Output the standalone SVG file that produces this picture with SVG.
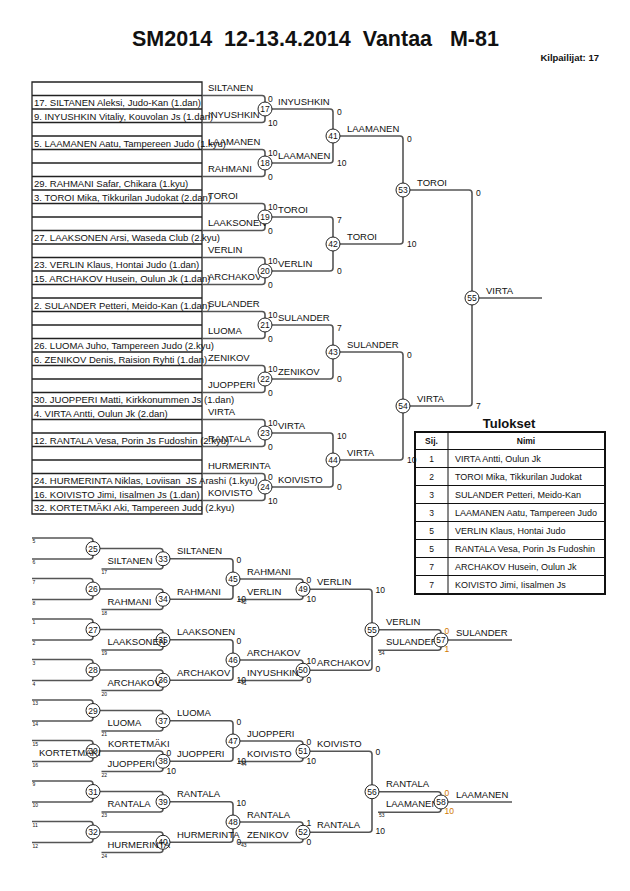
<svg xmlns="http://www.w3.org/2000/svg" width="630" height="891" viewBox="0 0 630 891">
<defs>
<style>
text{font-family:"Liberation Sans",Arial,Helvetica,sans-serif;fill:#111}
.ti{font-size:21.5px;font-weight:bold;text-anchor:middle}
.kp{font-size:9.5px;font-weight:bold;text-anchor:end}
.nm{font-size:9.5px}
.sc{font-size:8.5px}
.cn{font-size:8.5px;text-anchor:middle}
.tn{font-size:5px}
.or{fill:#d07800}
.br{fill:none;stroke:#555;stroke-width:1.6}
.cc{fill:#fff;stroke:#222;stroke-width:1}
.tb{fill:none;stroke:#222;stroke-width:1.3}
.rb{fill:none;stroke:#111;stroke-width:1}
.hd{font-size:8.5px;font-weight:bold;text-anchor:middle}
.rk{font-size:8.5px;text-anchor:middle}
.rn{font-size:9px}
</style>
<clipPath id="rc"><rect x="448" y="449" width="154" height="146"/></clipPath>
</defs>
<rect width="630" height="891" fill="#fff"/>
<text class="ti" x="315.5" y="46" xml:space="preserve">SM2014  12-13.4.2014  Vantaa   M-81</text>
<text class="kp" x="599" y="61">Kilpailijat: 17</text>

<g id="entries">
<path class="tb" d="M32,82H202V514H32Z M32,95.5H202 M32,109H202 M32,122.5H202 M32,136H202 M32,149.5H202 M32,163H202 M32,176.5H202 M32,190H202 M32,203.5H202 M32,217H202 M32,230.5H202 M32,244H202 M32,257.5H202 M32,271H202 M32,284.5H202 M32,298H202 M32,311.5H202 M32,325H202 M32,338.5H202 M32,352H202 M32,365.5H202 M32,379H202 M32,392.5H202 M32,406H202 M32,419.5H202 M32,433H202 M32,446.5H202 M32,460H202 M32,473.5H202 M32,487H202 M32,500.5H202"/>
<text class="nm" x="34" y="106">17. SILTANEN Aleksi, Judo-Kan (1.dan)</text>
<text class="nm" x="34" y="119.5">9. INYUSHKIN Vitaliy, Kouvolan Js (1.dan)</text>
<text class="nm" x="34" y="146.5">5. LAAMANEN Aatu, Tampereen Judo (1.kyu)</text>
<text class="nm" x="34" y="187">29. RAHMANI Safar, Chikara (1.kyu)</text>
<text class="nm" x="34" y="200.5">3. TOROI Mika, Tikkurilan Judokat (2.dan)</text>
<text class="nm" x="34" y="241">27. LAAKSONEN Arsi, Waseda Club (2.kyu)</text>
<text class="nm" x="34" y="268">23. VERLIN Klaus, Hontai Judo (1.dan)</text>
<text class="nm" x="34" y="281.5">15. ARCHAKOV Husein, Oulun Jk (1.dan)</text>
<text class="nm" x="34" y="308.5">2. SULANDER Petteri, Meido-Kan (1.dan)</text>
<text class="nm" x="34" y="349">26. LUOMA Juho, Tampereen Judo (2.kyu)</text>
<text class="nm" x="34" y="362.5">6. ZENIKOV Denis, Raision Ryhti (1.dan)</text>
<text class="nm" x="34" y="403">30. JUOPPERI Matti, Kirkkonummen Js (1.dan)</text>
<text class="nm" x="34" y="416.5">4. VIRTA Antti, Oulun Jk (2.dan)</text>
<text class="nm" x="34" y="443.5">12. RANTALA Vesa, Porin Js Fudoshin (2.kyu)</text>
<text class="nm" x="34" y="484" xml:space="preserve">24. HURMERINTA Niklas, Loviisan  JS Arashi (1.kyu)</text>
<text class="nm" x="34" y="497.5">16. KOIVISTO Jimi, Iisalmen Js (1.dan)</text>
<text class="nm" x="34" y="511">32. KORTETMÄKI Aki, Tampereen Judo (2.kyu)</text>
</g>

<g id="connectors">
<path class="br" d="M202,95.5H262Q265,95.5 265,98.5V119.5Q265,122.5 262,122.5H202 M202,149.5H262Q265,149.5 265,152.5V173.5Q265,176.5 262,176.5H202 M202,203.5H262Q265,203.5 265,206.5V227.5Q265,230.5 262,230.5H202 M202,257.5H262Q265,257.5 265,260.5V281.5Q265,284.5 262,284.5H202 M202,311.5H262Q265,311.5 265,314.5V335.5Q265,338.5 262,338.5H202 M202,365.5H262Q265,365.5 265,368.5V389.5Q265,392.5 262,392.5H202 M202,419.5H262Q265,419.5 265,422.5V443.5Q265,446.5 262,446.5H202 M202,473.5H262Q265,473.5 265,476.5V497.5Q265,500.5 262,500.5H202"/>
<path class="br" d="M265,109H330Q333,109 333,112V160Q333,163 330,163H265 M265,217H330Q333,217 333,220V268Q333,271 330,271H265 M265,325H330Q333,325 333,328V376Q333,379 330,379H265 M265,433H330Q333,433 333,436V484Q333,487 330,487H265"/>
<path class="br" d="M333,136H400Q403,136 403,139V241Q403,244 400,244H333 M333,352H400Q403,352 403,355V457Q403,460 400,460H333"/>
<path class="br" d="M403,190H469Q472,190 472,193V403Q472,406 469,406H403 M472,298H542"/>
<path class="br" d="M32,538H90Q93,538 93,541V556Q93,559 90,559H32 M32,578.5H90Q93,578.5 93,581.5V596.5Q93,599.5 90,599.5H32 M32,619H90Q93,619 93,622V637Q93,640 90,640H32 M32,659.5H90Q93,659.5 93,662.5V677.5Q93,680.5 90,680.5H32 M32,700H90Q93,700 93,703V718Q93,721 90,721H32 M32,740.5H90Q93,740.5 93,743.5V758.5Q93,761.5 90,761.5H32 M32,781H90Q93,781 93,784V799Q93,802 90,802H32 M32,821.5H90Q93,821.5 93,824.5V839.5Q93,842.5 90,842.5H32"/>
<path class="br" d="M93,548.5H160Q163,548.5 163,551.5V566Q163,569 160,569H101.5 M93,589H160Q163,589 163,592V606.5Q163,609.5 160,609.5H101.5 M93,629.5H160Q163,629.5 163,632.5V647Q163,650 160,650H101.5 M93,670H160Q163,670 163,673V687.5Q163,690.5 160,690.5H101.5 M93,710.5H160Q163,710.5 163,713.5V728Q163,731 160,731H101.5 M93,751H160Q163,751 163,754V768.5Q163,771.5 160,771.5H101.5 M93,791.5H160Q163,791.5 163,794.5V809Q163,812 160,812H101.5 M93,832H160Q163,832 163,835V849.5Q163,852.5 160,852.5H101.5"/>
<path class="br" d="M163,558.75H230Q233,558.75 233,561.75V596.25Q233,599.25 230,599.25H163 M163,639.75H230Q233,639.75 233,642.75V677.25Q233,680.25 230,680.25H163 M163,720.75H230Q233,720.75 233,723.75V758.25Q233,761.25 230,761.25H163 M163,801.75H230Q233,801.75 233,804.75V839.25Q233,842.25 230,842.25H163"/>
<path class="br" d="M233,579H300Q303,579 303,582V596.5Q303,599.5 300,599.5H238 M233,660H300Q303,660 303,663V677.5Q303,680.5 300,680.5H238 M233,741H300Q303,741 303,744V758.5Q303,761.5 300,761.5H238 M233,822H300Q303,822 303,825V839.5Q303,842.5 300,842.5H238"/>
<path class="br" d="M303,589.25H369Q372,589.25 372,592.25V667.25Q372,670.25 369,670.25H303 M303,751.25H369Q372,751.25 372,754.25V829.25Q372,832.25 369,832.25H303"/>
<path class="br" d="M372,629.75H438Q441,629.75 441,632.75V647.25Q441,650.25 438,650.25H378 M372,791.75H438Q441,791.75 441,794.75V809.25Q441,812.25 438,812.25H378 M441,640H512 M441,802H512"/>
</g>

<g id="slot-labels">
<text class="nm" x="208" y="90.5">SILTANEN</text>
<text class="nm" x="208" y="117.5">INYUSHKIN</text>
<text class="nm" x="208" y="144.5">LAAMANEN</text>
<text class="nm" x="208" y="171.5">RAHMANI</text>
<text class="nm" x="208" y="198.5">TOROI</text>
<text class="nm" x="208" y="225.5">LAAKSONEN</text>
<text class="nm" x="208" y="252.5">VERLIN</text>
<text class="nm" x="208" y="279.5">ARCHAKOV</text>
<text class="nm" x="208" y="306.5">SULANDER</text>
<text class="nm" x="208" y="333.5">LUOMA</text>
<text class="nm" x="208" y="360.5">ZENIKOV</text>
<text class="nm" x="208" y="387.5">JUOPPERI</text>
<text class="nm" x="208" y="414.5">VIRTA</text>
<text class="nm" x="208" y="441.5">RANTALA</text>
<text class="nm" x="208" y="468.5">HURMERINTA</text>
<text class="nm" x="208" y="495.5">KOIVISTO</text>
</g>

<g id="m17"><circle class="cc" cx="265" cy="109" r="7"/><text class="cn" x="265" y="112">17</text><text class="sc" x="268" y="101.5">0</text><text class="sc" x="268" y="125.5">10</text><text class="nm" x="278" y="104.5">INYUSHKIN</text></g>
<g id="m18"><circle class="cc" cx="265" cy="163" r="7"/><text class="cn" x="265" y="166">18</text><text class="sc" x="268" y="155.5">10</text><text class="sc" x="268" y="179.5">0</text><text class="nm" x="278" y="158.5">LAAMANEN</text></g>
<g id="m19"><circle class="cc" cx="265" cy="217" r="7"/><text class="cn" x="265" y="220">19</text><text class="sc" x="268" y="209.5">10</text><text class="sc" x="268" y="233.5">0</text><text class="nm" x="278" y="212.5">TOROI</text></g>
<g id="m20"><circle class="cc" cx="265" cy="271" r="7"/><text class="cn" x="265" y="274">20</text><text class="sc" x="268" y="263.5">10</text><text class="sc" x="268" y="287.5">0</text><text class="nm" x="278" y="266.5">VERLIN</text></g>
<g id="m21"><circle class="cc" cx="265" cy="325" r="7"/><text class="cn" x="265" y="328">21</text><text class="sc" x="268" y="317.5">10</text><text class="sc" x="268" y="341.5">0</text><text class="nm" x="278" y="320.5">SULANDER</text></g>
<g id="m22"><circle class="cc" cx="265" cy="379" r="7"/><text class="cn" x="265" y="382">22</text><text class="sc" x="268" y="371.5">10</text><text class="sc" x="268" y="395.5">0</text><text class="nm" x="278" y="374.5">ZENIKOV</text></g>
<g id="m23"><circle class="cc" cx="265" cy="433" r="7"/><text class="cn" x="265" y="436">23</text><text class="sc" x="268" y="425.5">10</text><text class="sc" x="268" y="449.5">0</text><text class="nm" x="278" y="428.5">VIRTA</text></g>
<g id="m24"><circle class="cc" cx="265" cy="487" r="7"/><text class="cn" x="265" y="490">24</text><text class="sc" x="268" y="479.5">0</text><text class="sc" x="268" y="503.5">10</text><text class="nm" x="278" y="482.5">KOIVISTO</text></g>

<g id="m41"><circle class="cc" cx="333" cy="136" r="7"/><text class="cn" x="333" y="139">41</text><text class="sc" x="337" y="115">0</text><text class="sc" x="337" y="166">10</text><text class="nm" x="347" y="131.5">LAAMANEN</text></g>
<g id="m42"><circle class="cc" cx="333" cy="244" r="7"/><text class="cn" x="333" y="247">42</text><text class="sc" x="337" y="223">7</text><text class="sc" x="337" y="274">0</text><text class="nm" x="347" y="239.5">TOROI</text></g>
<g id="m43"><circle class="cc" cx="333" cy="352" r="7"/><text class="cn" x="333" y="355">43</text><text class="sc" x="337" y="331">7</text><text class="sc" x="337" y="382">0</text><text class="nm" x="347" y="347.5">SULANDER</text></g>
<g id="m44"><circle class="cc" cx="333" cy="460" r="7"/><text class="cn" x="333" y="463">44</text><text class="sc" x="337" y="439">10</text><text class="sc" x="337" y="490">0</text><text class="nm" x="347" y="455.5">VIRTA</text></g>

<g id="m53"><circle class="cc" cx="403" cy="190" r="7"/><text class="cn" x="403" y="193">53</text><text class="sc" x="407" y="142">0</text><text class="sc" x="407" y="247">10</text><text class="nm" x="417" y="185.5">TOROI</text></g>
<g id="m54"><circle class="cc" cx="403" cy="406" r="7"/><text class="cn" x="403" y="409">54</text><text class="sc" x="407" y="358">0</text><text class="sc" x="407" y="463">10</text><text class="nm" x="417" y="401.5">VIRTA</text></g>
<g id="m55top"><circle class="cc" cx="472" cy="298" r="7"/><text class="cn" x="472" y="301">55</text><text class="sc" x="476" y="196">0</text><text class="sc" x="476" y="409">7</text><text class="nm" x="486" y="293.5">VIRTA</text></g>

<g id="m25"><circle class="cc" cx="93" cy="548.5" r="7"/><text class="cn" x="93" y="551.5">25</text><text class="tn" x="32.5" y="543">5</text><text class="tn" x="32.5" y="564">6</text></g>
<g id="m26"><circle class="cc" cx="93" cy="589" r="7"/><text class="cn" x="93" y="592">26</text><text class="tn" x="32.5" y="583.5">7</text><text class="tn" x="32.5" y="604.5">8</text></g>
<g id="m27"><circle class="cc" cx="93" cy="629.5" r="7"/><text class="cn" x="93" y="632.5">27</text><text class="tn" x="32.5" y="624">1</text><text class="tn" x="32.5" y="645">2</text></g>
<g id="m28"><circle class="cc" cx="93" cy="670" r="7"/><text class="cn" x="93" y="673">28</text><text class="tn" x="32.5" y="664.5">3</text><text class="tn" x="32.5" y="685.5">4</text></g>
<g id="m29"><circle class="cc" cx="93" cy="710.5" r="7"/><text class="cn" x="93" y="713.5">29</text><text class="tn" x="32.5" y="705">13</text><text class="tn" x="32.5" y="726">14</text></g>
<g id="m30"><circle class="cc" cx="93" cy="751" r="7"/><text class="cn" x="93" y="754">30</text><text class="tn" x="32.5" y="745.5">15</text><text class="tn" x="32.5" y="766.5">16</text><text class="nm" x="39" y="756">KORTETMÄKI</text><text class="nm" x="108" y="746.5">KORTETMÄKI</text></g>
<g id="m31"><circle class="cc" cx="93" cy="791.5" r="7"/><text class="cn" x="93" y="794.5">31</text><text class="tn" x="32.5" y="786">9</text><text class="tn" x="32.5" y="807">10</text></g>
<g id="m32"><circle class="cc" cx="93" cy="832" r="7"/><text class="cn" x="93" y="835">32</text><text class="tn" x="32.5" y="826.5">11</text><text class="tn" x="32.5" y="847.5">12</text></g>

<g id="m33"><circle class="cc" cx="163" cy="558.75" r="7"/><text class="cn" x="163" y="561.75">33</text><text class="nm" x="107.5" y="564">SILTANEN</text><text class="tn" x="101.5" y="574">17</text><text class="nm" x="177" y="554.25">SILTANEN</text></g>
<g id="m34"><circle class="cc" cx="163" cy="599.25" r="7"/><text class="cn" x="163" y="602.25">34</text><text class="nm" x="107.5" y="604.5">RAHMANI</text><text class="tn" x="101.5" y="614.5">18</text><text class="nm" x="177" y="594.75">RAHMANI</text></g>
<g id="m35"><circle class="cc" cx="163" cy="639.75" r="7"/><text class="cn" x="163" y="642.75">35</text><text class="nm" x="107.5" y="645">LAAKSONEN</text><text class="tn" x="101.5" y="655">19</text><text class="nm" x="177" y="635.25">LAAKSONEN</text></g>
<g id="m36"><circle class="cc" cx="163" cy="680.25" r="7"/><text class="cn" x="163" y="683.25">36</text><text class="nm" x="107.5" y="685.5">ARCHAKOV</text><text class="tn" x="101.5" y="695.5">20</text><text class="nm" x="177" y="675.75">ARCHAKOV</text></g>
<g id="m37"><circle class="cc" cx="163" cy="720.75" r="7"/><text class="cn" x="163" y="723.75">37</text><text class="nm" x="107.5" y="726">LUOMA</text><text class="tn" x="101.5" y="736">21</text><text class="nm" x="177" y="716.25">LUOMA</text></g>
<g id="m38"><circle class="cc" cx="163" cy="761.25" r="7"/><text class="cn" x="163" y="764.25">38</text><text class="nm" x="107.5" y="766.5">JUOPPERI</text><text class="tn" x="101.5" y="776.5">22</text><text class="sc" x="166.5" y="756">0</text><text class="sc" x="166.5" y="774">10</text><text class="nm" x="177" y="756.75">JUOPPERI</text></g>
<g id="m39"><circle class="cc" cx="163" cy="801.75" r="7"/><text class="cn" x="163" y="804.75">39</text><text class="nm" x="107.5" y="807">RANTALA</text><text class="tn" x="101.5" y="817">23</text><text class="nm" x="177" y="797.25">RANTALA</text></g>
<g id="m40"><circle class="cc" cx="163" cy="842.25" r="7"/><text class="cn" x="163" y="845.25">40</text><text class="nm" x="107.5" y="847.5">HURMERINTA</text><text class="tn" x="101.5" y="857.5">24</text><text class="nm" x="177" y="837.75">HURMERINTA</text></g>

<g id="m45"><circle class="cc" cx="233" cy="579" r="7"/><text class="cn" x="233" y="582">45</text><text class="sc" x="236.5" y="563">0</text><text class="sc" x="236.5" y="601.5">10</text><text class="nm" x="247" y="574.5">RAHMANI</text></g>
<g id="m46"><circle class="cc" cx="233" cy="660" r="7"/><text class="cn" x="233" y="663">46</text><text class="sc" x="236.5" y="644">0</text><text class="sc" x="236.5" y="682.5">10</text><text class="nm" x="247" y="655.5">ARCHAKOV</text></g>
<g id="m47"><circle class="cc" cx="233" cy="741" r="7"/><text class="cn" x="233" y="744">47</text><text class="sc" x="236.5" y="725">0</text><text class="sc" x="236.5" y="763.5">10</text><text class="nm" x="247" y="736.5">JUOPPERI</text></g>
<g id="m48"><circle class="cc" cx="233" cy="822" r="7"/><text class="cn" x="233" y="825">48</text><text class="sc" x="236.5" y="806">10</text><text class="sc" x="236.5" y="844.5">0</text><text class="nm" x="247" y="817.5">RANTALA</text></g>

<g id="m49"><circle class="cc" cx="303" cy="589.25" r="7"/><text class="cn" x="303" y="592.25">49</text><text class="nm" x="247" y="594.5">VERLIN</text><text class="tn" x="241" y="604">42</text><text class="sc" x="306.5" y="583">0</text><text class="sc" x="306.5" y="601.5">10</text><text class="nm" x="317" y="584.75">VERLIN</text></g>
<g id="m50"><circle class="cc" cx="303" cy="670.25" r="7"/><text class="cn" x="303" y="673.25">50</text><text class="nm" x="247" y="675.5">INYUSHKIN</text><text class="tn" x="241" y="685">41</text><text class="sc" x="306.5" y="664">10</text><text class="sc" x="306.5" y="682.5">0</text><text class="nm" x="317" y="665.75">ARCHAKOV</text></g>
<g id="m51"><circle class="cc" cx="303" cy="751.25" r="7"/><text class="cn" x="303" y="754.25">51</text><text class="nm" x="247" y="756.5">KOIVISTO</text><text class="tn" x="241" y="766">44</text><text class="sc" x="306.5" y="745">0</text><text class="sc" x="306.5" y="763.5">10</text><text class="nm" x="317" y="746.75">KOIVISTO</text></g>
<g id="m52"><circle class="cc" cx="303" cy="832.25" r="7"/><text class="cn" x="303" y="835.25">52</text><text class="nm" x="247" y="837.5">ZENIKOV</text><text class="tn" x="241" y="847">43</text><text class="sc" x="306.5" y="826">1</text><text class="sc" x="306.5" y="844.5">0</text><text class="nm" x="317" y="827.75">RANTALA</text></g>

<g id="m55"><circle class="cc" cx="372" cy="629.75" r="7"/><text class="cn" x="372" y="632.75">55</text><text class="sc" x="375.5" y="593.25">10</text><text class="sc" x="375.5" y="672.25">0</text><text class="nm" x="386" y="625.25">VERLIN</text></g>
<g id="m56"><circle class="cc" cx="372" cy="791.75" r="7"/><text class="cn" x="372" y="794.75">56</text><text class="sc" x="375.5" y="755.25">0</text><text class="sc" x="375.5" y="834.25">10</text><text class="nm" x="386" y="787.25">RANTALA</text></g>

<g id="m57"><text class="nm" x="386" y="645.25">SULANDER</text><text class="tn" x="379" y="654.75">54</text><circle class="cc" cx="441" cy="640" r="7"/><text class="cn" x="441" y="643">57</text><text class="sc or" x="444.5" y="633.75">0</text><text class="sc or" x="444.5" y="652.25">1</text><text class="nm" x="456" y="635.5">SULANDER</text></g>
<g id="m58"><text class="nm" x="386" y="807.25">LAAMANEN</text><text class="tn" x="379" y="816.75">53</text><circle class="cc" cx="441" cy="802" r="7"/><text class="cn" x="441" y="805">58</text><text class="sc or" x="444.5" y="795.75">0</text><text class="sc or" x="444.5" y="814.25">10</text><text class="nm" x="456" y="797.5">LAAMANEN</text></g>

<g id="results">
<text x="509" y="428" style="font-size:13px;font-weight:bold;text-anchor:middle">Tulokset</text>
<path class="rb" d="M415,449.5H605 M415,467.5H605 M415,485.5H605 M415,503.5H605 M415,521.5H605 M415,539.5H605 M415,557.5H605 M415,575.5H605 M448,432V594"/>
<rect x="415" y="432" width="190" height="162" fill="none" stroke="#111" stroke-width="2"/>
<text class="hd" x="431.5" y="444">Sij.</text>
<text class="hd" x="526" y="444">Nimi</text>
<text class="rk" x="431.5" y="462">1</text>
<text class="rk" x="431.5" y="480">2</text>
<text class="rk" x="431.5" y="498">3</text>
<text class="rk" x="431.5" y="516">3</text>
<text class="rk" x="431.5" y="534">5</text>
<text class="rk" x="431.5" y="552">5</text>
<text class="rk" x="431.5" y="570">7</text>
<text class="rk" x="431.5" y="588">7</text>
<g clip-path="url(#rc)">
<text class="rn" x="455" y="462">VIRTA Antti, Oulun Jk</text>
<text class="rn" x="455" y="480">TOROI Mika, Tikkurilan Judokat</text>
<text class="rn" x="455" y="498">SULANDER Petteri, Meido-Kan</text>
<text class="rn" x="455" y="516">LAAMANEN Aatu, Tampereen Judo</text>
<text class="rn" x="455" y="534">VERLIN Klaus, Hontai Judo</text>
<text class="rn" x="455" y="552">RANTALA Vesa, Porin Js Fudoshin</text>
<text class="rn" x="455" y="570">ARCHAKOV Husein, Oulun Jk</text>
<text class="rn" x="455" y="588">KOIVISTO Jimi, Iisalmen Js</text>
</g>
</g>
</svg>
